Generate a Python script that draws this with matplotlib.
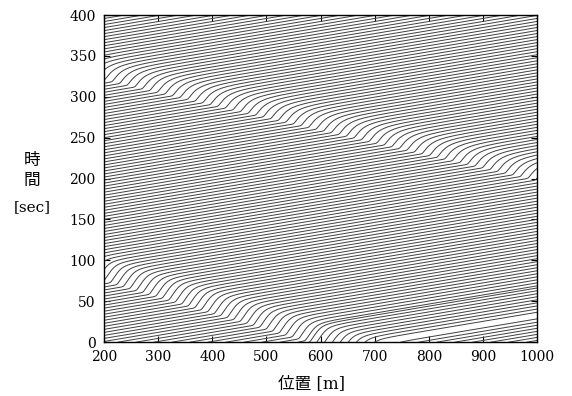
import numpy as np
import matplotlib
matplotlib.use("Agg")
import matplotlib.pyplot as plt

# axis ticks
x_ticks = [200, 300, 400, 500, 600, 700, 800, 900, 1000]
t_ticks = [0, 50, 100, 150, 200, 250, 300, 350, 400]

# jam waves: tail of the jam, (x [m], t [s]) where it crosses the frame
wave1_tail_x = [1000, 200]
wave1_tail_t = [197, 320]
wave2_tail_x = [575, 200]
wave2_tail_t = [0, 74]
jam_len = [165, 155]      # core length of each jam [m]
head_ramp = [35, 20]      # how gradual the pull-away at the jam head is [m]

v_free = 9.0       # m/s, slope of the free-flow lines
v_jam = 1.0        # m/s inside the jam
headway = 3.7      # s between cars in free flow
jam_head0 = 700    # head car of the lower jam at t=0
first_free0 = 748  # first free car ahead of it at t=0 (the white wedge)

waves = [(wave1_tail_x, wave1_tail_t, jam_len[0], head_ramp[0]),
         (wave2_tail_x, wave2_tail_t, jam_len[1], head_ramp[1])]


def sig(z):
    return 1.0 / (1.0 + np.exp(-z))


def wave_speed(wx, wt):
    return (wx[0] - wx[1]) / (wt[1] - wt[0])


def speed(x, t):
    p = np.zeros_like(np.asarray(x, dtype=float))
    for wx, wt, L, a in waves:
        tail = wx[0] - wave_speed(wx, wt) * (t - wt[0])
        d = x - tail
        p = p + sig(d / 4.0) * (1 - sig((d - L) / a))
    return v_free - (v_free - v_jam) * np.clip(p, 0, 1)


# cars at t=0: free cars ahead of the jam, then cars behind the head car
# spaced so the flow through the moving jam is steady
s_free = v_free * headway
c2 = wave_speed(wave2_tail_x, wave2_tail_t)
ahead = list(np.arange(first_free0, 1000 + s_free, s_free))
behind = [float(jam_head0)]
while behind[-1] > -5000:
    xb = behind[-1]
    s = s_free * (speed(np.array([xb]), 0.0)[0] + c2) / (v_free + c2)
    behind.append(xb - s)
x = np.array(ahead + behind)

dt = 0.1
ts = np.arange(0, 405, dt)
traj = np.empty((len(ts), len(x)))
for k, t in enumerate(ts):
    traj[k] = x
    x = x + speed(x, t) * dt

fig = plt.figure(figsize=(5.72, 3.96), dpi=100)
ax = fig.add_axes([0.182, 0.136, 0.757, 0.826])
for i in range(traj.shape[1]):
    ax.plot(traj[:, i], ts, color="#404040", lw=0.7)

ax.set_xlim(200, 1000)
ax.set_ylim(0, 400)
ax.set_xticks(x_ticks)
ax.set_yticks(t_ticks)
ax.tick_params(direction="in", top=True, right=True, length=4, width=0.8,
               labelsize=10)
ax.tick_params(axis="x", pad=6)
ax.tick_params(axis="y", pad=6)
for lab in ax.get_xticklabels() + ax.get_yticklabels():
    lab.set_family("DejaVu Serif")
for sp in ax.spines.values():
    sp.set_linewidth(1.0)

fam = ["DejaVu Serif", "Noto Sans CJK JP"]
fig.text(32 / 572, 1 - 161 / 396, "時", family=fam, fontsize=12, ha="center", va="center")
fig.text(32 / 572, 1 - 180 / 396, "間", family=fam, fontsize=12, ha="center", va="center")
fig.text(32 / 572, 1 - 207 / 396, "[sec]", family=fam, fontsize=11, ha="center", va="center")
fig.text(312 / 572, 1 - 385 / 396, "位置 [m]", family=fam, fontsize=12, ha="center", va="center")

fig.savefig("out.png", dpi=100)
